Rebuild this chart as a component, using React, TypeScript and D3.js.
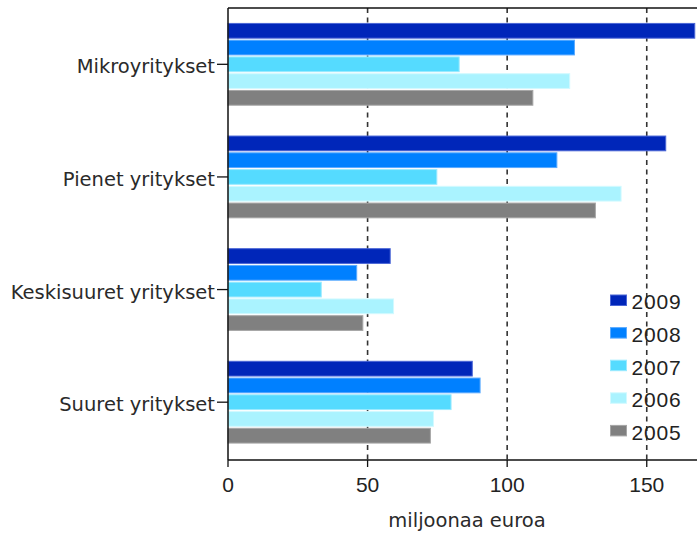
import React from "react";
import * as d3 from "d3";

const categories = ["Mikroyritykset", "Pienet yritykset", "Keskisuuret yritykset", "Suuret yritykset"];
const years = ["2009", "2008", "2007", "2006", "2005"];
const colors = ["#0026b9", "#0080ff", "#55dbff", "#aaf3ff", "#808080"];
const strokes = ["#4a66d6", "#5aaaff", "#9aeaff", "#d2f9ff", "#a6a6a6"];

// values per year, in category order
const v2009 = [167.2, 156.8, 58.1, 87.5];
const v2008 = [124.1, 117.8, 46.1, 90.3];
const v2007 = [82.8, 74.8, 33.4, 79.9];
const v2006 = [122.4, 140.8, 59.3, 73.6];
const v2005 = [109.2, 131.6, 48.3, 72.5];
const series = [v2009, v2008, v2007, v2006, v2005];

const xTicks = [0, 50, 100, 150];
const gridTicks = [50, 100, 150];
const xTitle = "miljoonaa euroa";

const W = 698;
const H = 533;
const left = 228;
const right = 697;
const top = 8;
const bottom = 460;

const wordFont = "DejaVu Sans";
const numFont = "Liberation Sans, Arial, sans-serif";

export default function App() {
  const x = d3.scaleLinear().domain([0, 168]).range([left, right]);
  const y0 = d3.scaleBand<string>().domain(categories).range([top, 458.5]).paddingInner(0.265).paddingOuter(0.1325);
  const y1 = d3.scaleBand<string>().domain(years).range([0, y0.bandwidth()]).paddingInner(0.06);

  return (
    <svg width={W} height={H} style={{ position: "absolute", left: 0, top: 0, background: "#fff" }}>
      {/* dashed gridlines behind the bars */}
      {gridTicks.map((t) => (
        <line key={t} x1={x(t)} x2={x(t)} y1={top} y2={bottom} stroke="#333" strokeWidth={1.6} strokeDasharray="5,4.5" />
      ))}

      {categories.map((c, ci) => (
        <g key={c} transform={`translate(0,${y0(c)})`}>
          {years.map((yr, si) => (
            <rect
              key={yr}
              x={x(0)}
              y={y1(yr)! + 0.5}
              width={x(series[si][ci]) - x(0)}
              height={y1.bandwidth() - 1}
              fill={colors[si]}
              stroke={strokes[si]}
              strokeWidth={1}
            />
          ))}
        </g>
      ))}

      {/* frame: top, left, bottom */}
      <line x1={left} x2={right} y1={top} y2={top} stroke="#111" strokeWidth={1.5} />
      <line x1={left} x2={left} y1={top} y2={bottom} stroke="#111" strokeWidth={1.5} />
      <line x1={left} x2={right} y1={bottom} y2={bottom} stroke="#111" strokeWidth={1.5} />

      {/* y axis ticks & labels */}
      {categories.map((c) => {
        const cy = y0(c)! + y0.bandwidth() / 2;
        return (
          <g key={c}>
            <line x1={left - 11} x2={left} y1={cy} y2={cy} stroke="#111" strokeWidth={1.3} />
            <text x={left - 13} y={cy + 9} textAnchor="end" fontFamily={wordFont} fontSize={19.5} fill="#2a2a2a">
              {c}
            </text>
          </g>
        );
      })}

      {/* x axis ticks & labels */}
      {xTicks.map((t) => (
        <g key={t}>
          <line x1={x(t)} x2={x(t)} y1={bottom} y2={bottom + 7} stroke="#111" strokeWidth={1.3} />
          <text x={x(t)} y={491.5} textAnchor="middle" fontFamily={numFont} fontSize={21} fill="#222">
            {t}
          </text>
        </g>
      ))}
      <text x={467} y={526.5} textAnchor="middle" fontFamily={wordFont} fontSize={19.5} fill="#2a2a2a">
        {xTitle}
      </text>

      {/* legend */}
      {years.map((yr, i) => {
        const ly = 295 + i * 32.6;
        return (
          <g key={yr}>
            <rect x={610.5} y={ly} width={16} height={10.5} fill={colors[i]} stroke={strokes[i]} strokeWidth={1} />
            <text x={631.5} y={ly + 14.3} fontFamily={numFont} fontSize={21} letterSpacing={0.8} fill="#222">
              {yr}
            </text>
          </g>
        );
      })}
    </svg>
  );
}
